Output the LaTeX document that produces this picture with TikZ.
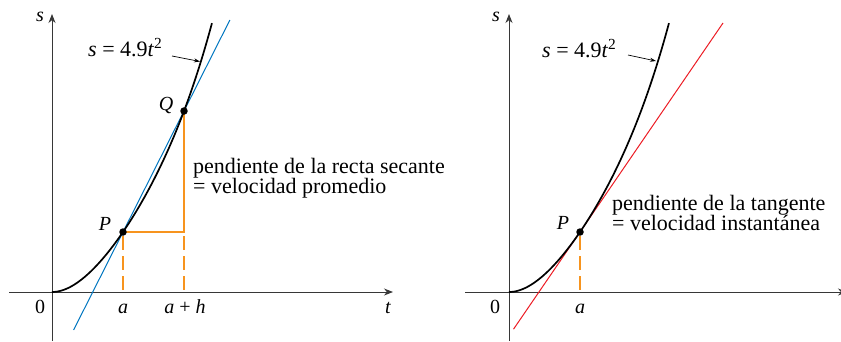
\documentclass[tikz,border=0pt]{standalone}
\usepackage{fontspec}
\setmainfont{Liberation Serif}
\usetikzlibrary{arrows.meta,calc}
\definecolor{axiscol}{RGB}{55,55,55}
\definecolor{secblue}{RGB}{0,118,192}
\definecolor{tanred}{RGB}{236,28,36}
\definecolor{guideorange}{RGB}{247,148,30}
\begin{document}
\begin{tikzpicture}[x=1pt,y=-1pt,
  axisline/.style={draw=axiscol,line width=0.9pt,-{Stealth[length=9pt,width=7pt]}},
  curveline/.style={draw=black,line width=1.7pt},
  secline/.style={draw=secblue,line width=1pt},
  tanline/.style={draw=tanred,line width=1pt},
  guide/.style={draw=guideorange,line width=1.5pt},
  guidedash/.style={guide,dash pattern=on 14pt off 6pt,dash phase=16pt},
  pointer/.style={draw=black,line width=0.7pt,-{Stealth[length=6pt,width=4pt]}},
  dot/.style={circle,fill=black,inner sep=0pt,minimum size=7.5pt},
  lab/.style={inner sep=0pt,font=\fontsize{20}{22}\selectfont},
  formula/.style={inner sep=0pt,anchor=base west,font=\fontsize{22}{22}\selectfont},
  desc/.style={inner sep=0pt,anchor=base west,font=\fontsize{22}{20}\selectfont}]
\useasboundingbox (0,0) rectangle (841,341);
% ---------------- left panel ----------------
\coordinate (O1) at (52,292);
\coordinate (xs1) at (9,292);
\coordinate (xe1) at (393,292);
\coordinate (yb1) at (52,341);
\coordinate (ye1) at (52,14);
\coordinate (P1) at (123,232);
\coordinate (Q1) at (184,111);
\draw[axisline] (xs1) -- (xe1);
\draw[axisline] (yb1) -- (ye1);
\draw[guide] (P1) -- (P1 -| Q1) -- (Q1);
\draw[guidedash] (P1) -- (P1 |- O1);
\draw[guidedash] (P1 -| Q1) -- (Q1 |- O1);
\draw[secline] ($(P1)!-0.81!(Q1)$) -- ($(P1)!1.752!(Q1)$);
\draw[curveline] plot[domain=0:1.6,samples=80,smooth]
  ({52+100*\x},{292-(167.31*\x*\x-91.23*\x*\x*\x+32.71*\x*\x*\x*\x)});
\node[dot] (p1dot) at (P1) {};
\node[dot] (q1dot) at (Q1) {};
\node[lab,anchor=base] (s1) at (40,21) {\textit{s}};
\node[lab,anchor=base] (t1) at (388,313) {\textit{t}};
\node[lab,anchor=base] (z1) at (40,313) {0};
\node[lab,anchor=base] (a1) at (123,313) {\textit{a}};
\node[lab,anchor=base] (ah1) at (185,313) {\textit{a} + \textit{h}};
\node[lab] (Plab1) at (105,224) {\textit{P}};
\node[lab] (Qlab1) at (166,105) {\textit{Q}};
\node[formula] (f1) at (88,56) {\textit{s} = 4.9\textit{t}\textsuperscript{2}};
\coordinate (fa1) at (172,56);
\coordinate (fb1) at (200,61.5);
\draw[pointer] (fa1) -- (fb1);
\node[desc] (sec1) at (193,173) {pendiente de la recta secante};
\node[desc] (sec2) at (193,193) {= velocidad promedio};
% ---------------- right panel ----------------
\coordinate (O2) at (509,292);
\coordinate (xs2) at (465,292);
\coordinate (xe2) at (847,292);
\coordinate (yb2) at (509,341);
\coordinate (ye2) at (509,14);
\coordinate (P2) at (580,232);
\coordinate (T2) at (723,23);
\draw[axisline] (xs2) -- (xe2);
\draw[axisline] (yb2) -- (ye2);
\draw[guidedash] (P2) -- (P2 |- O2);
\draw[tanline] ($(P2)!-0.465!(T2)$) -- (T2);
\draw[curveline] plot[domain=0:1.6,samples=80,smooth]
  ({509+100*\x},{292-(167.31*\x*\x-91.23*\x*\x*\x+32.71*\x*\x*\x*\x)});
\node[dot] (p2dot) at (P2) {};
\node[lab,anchor=base] (s2) at (496,21) {\textit{s}};
\node[lab,anchor=base] (z2) at (495,313) {0};
\node[lab,anchor=base] (a2) at (580,313) {\textit{a}};
\node[lab] (Plab2) at (563,223) {\textit{P}};
\node[formula] (f2) at (542,57) {\textit{s} = 4.9\textit{t}\textsuperscript{2}};
\coordinate (fa2) at (628,55);
\coordinate (fb2) at (656,61);
\draw[pointer] (fa2) -- (fb2);
\node[desc] (tan1) at (612,210) {pendiente de la tangente};
\node[desc] (tan2) at (612,230) {= velocidad instantánea};
\end{tikzpicture}
\end{document}
